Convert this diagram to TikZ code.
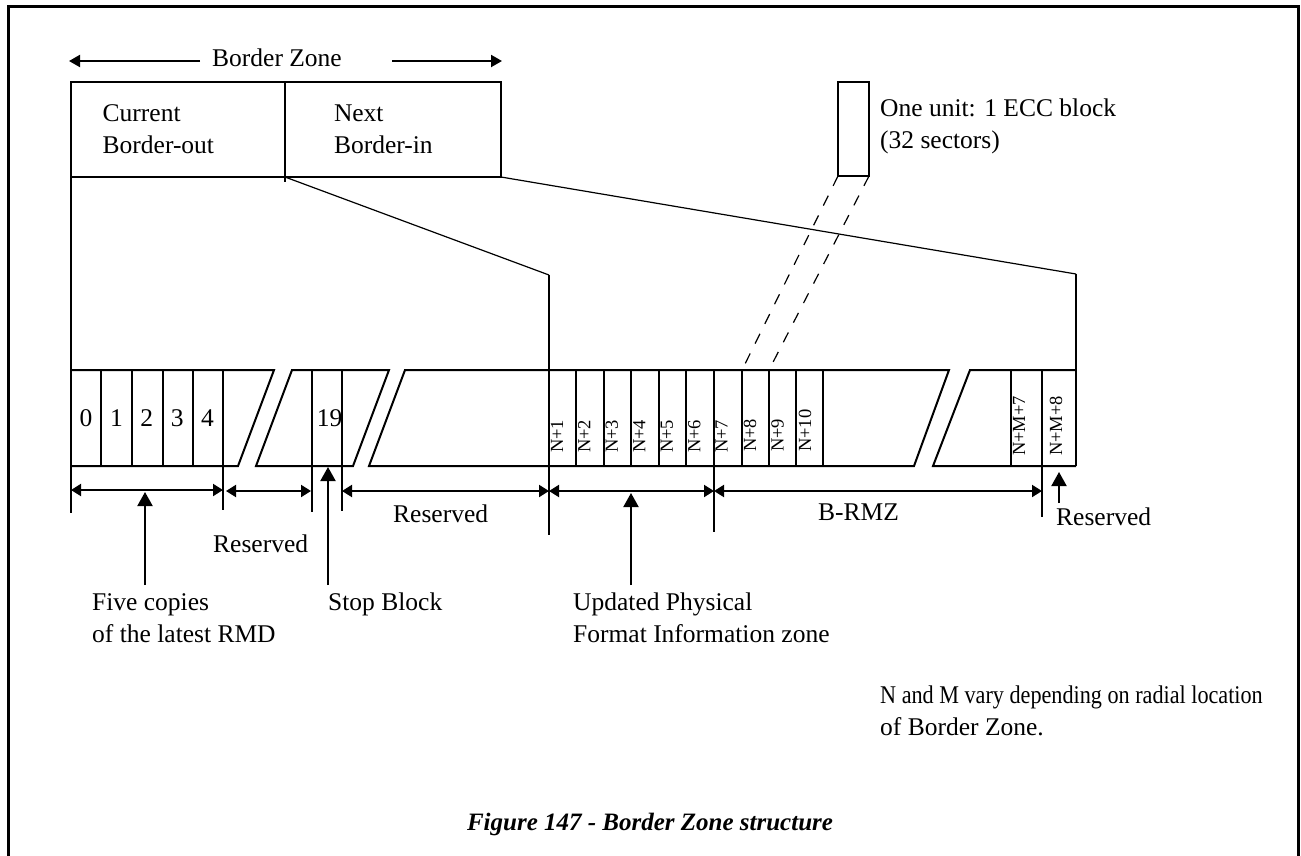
\documentclass[tikz,border=0pt]{standalone}
\usepackage{fontspec}
\setmainfont{Liberation Serif}
\usetikzlibrary{arrows.meta}

\begin{document}
\begin{tikzpicture}[x=1pt, y=-1pt,
    ln/.style={line width=2pt},
    fan/.style={line width=1.2pt},
    zone/.style={draw, ln, outer sep=0pt, inner ysep=0pt, minimum height=95pt, align=left,
                 font=\fontsize{25.5}{32}\selectfont},
    txt/.style={inner sep=0pt, anchor=base west, align=left, font=\fontsize{25.5}{32}\selectfont},
    num/.style={inner sep=0pt, font=\fontsize{25.5}{32}\selectfont},
    vlab/.style={inner sep=0pt, anchor=base west, rotate=90, font=\fontsize{18.5}{20}\selectfont},
    dimarr/.style={ln, {Triangle[length=10pt,width=12pt]}-{Triangle[length=10pt,width=12pt]}},
    ptr/.style={ln, -{Triangle[length=14pt,width=15pt]}},
    bzarr/.style={ln, -{Triangle[length=11pt,width=12pt]}}]
  \useasboundingbox (0,0) rectangle (1301,855);
  \draw[line width=3pt] (8.5,870) -- (8.5,6.5) -- (1298.8,6.5) -- (1298.8,870);

  % border zone and its two halves
  \node[txt] (bz) at (212,66) {Border Zone};
  \draw[bzarr] (200,61) -- (69,61);
  \draw[bzarr] (392,61) -- (502,61);
  \node[zone, minimum width=214pt, text width=150.6pt, inner xsep=31.7pt] (cur) at (178,129.5) {Current\\Border-out};
  \node[zone, minimum width=216pt, text width=118pt, inner xsep=49pt] (nxt) at (393,129.5) {Next\\Border-in};
  \draw[ln] (cur.south east) -- ++(0,5);
  \node[draw, ln, outer sep=0pt, inner sep=0pt, minimum width=31pt, minimum height=94pt] (unit) at (853.5,129) {};
  \node[txt] (unittxt) at (880,148) {One unit: 1 ECC block\\(32 sectors)};

  % fan-out to the block row
  \coordinate (pfi) at (549,275);
  \coordinate (rmz) at (1076,274);
  \draw[fan] (cur.south east) -- (pfi);
  \draw[fan] (nxt.south east) -- (rmz);
  \draw[ln] (cur.south west) -- (71,513);
  \draw[ln] (pfi) -- (549,535);
  \draw[ln] (rmz) -- (1076,466);
  \draw[fan, dash pattern=on 11pt off 11pt] (unit.south west) -- (742,370);
  \draw[fan, dash pattern=on 11pt off 11pt] (unit.south east) -- (769,370);

  % block row with its three breaks
  \draw[ln] (71,370) -- (274,370) -- (238,466) -- (71,466);
  \draw[ln] (256,466) -- (292,370) -- (389,370) -- (353,466) -- cycle;
  \draw[ln] (369,466) -- (405,370) -- (949,370) -- (914,466) -- cycle;
  \draw[ln] (1076,370) -- (970,370) -- (933,466) -- (1076,466);
  \foreach \x/\yb in {101/466,132/466,163/466,193/466,223/510,312/512,342/511,
      576/466,604/466,631/466,659/466,686/466,714/532,742/466,769/466,796/466,823/466,
      1011/466,1042/517}
    \draw[ln] (\x,370) -- (\x,\yb);
  \foreach \i in {0,...,4}
    \node[num] (b\i) at (86+30.4*\i,418.5) {\i};
  \node[num] (b19) at (329.5,418.5) {19};
  \foreach \i in {1,...,7}
    \node[vlab] (n\i) at (549+27.45*\i-13.45,453) {N+\i};
  \foreach \i in {8,9,10}
    \node[vlab] (n\i) at (549+27.45*\i-12.45,452) {N+\i};
  \node[vlab] (nm7) at (1025,456) {N+M+7};
  \node[vlab] (nm8) at (1062,456) {N+M+8};

  % extents under the row
  \draw[dimarr] (71,490) -- (223,490);
  \draw[dimarr] (226,491) -- (311,491);
  \draw[dimarr] (342,491) -- (549,491);
  \draw[dimarr] (549,491) -- (714,491);
  \draw[dimarr] (714,491) -- (1042,491);
  \node[txt] (res1) at (213,552) {Reserved};
  \node[txt] (res2) at (393,522) {Reserved};
  \node[txt] (brmz) at (818,520) {B-RMZ};
  \node[txt] (res3) at (1056,525) {Reserved};
  \draw[ptr] (1059,503) -- (1059,472);

  % what the pointers name
  \node[txt] (five) at (92,642) {Five copies\\of the latest RMD};
  \node[txt] (stop) at (328,610) {Stop Block};
  \node[txt] (upfi) at (573,642) {Updated Physical\\Format Information zone};
  \draw[ptr] (145,585) -- (145,492);
  \draw[ptr] (328,585) -- (328,467);
  \draw[ptr] (631,585) -- (631,493);
  \node[txt] (note) at (880,735) {\scalebox{0.87}[1]{N and M vary depending on radial location}\\of Border Zone.};
  \node[font=\fontsize{25}{30}\selectfont\bfseries\itshape, inner sep=0pt, anchor=base] (cap) at (650,830) {Figure 147 - Border Zone structure};
\end{tikzpicture}
\end{document}
